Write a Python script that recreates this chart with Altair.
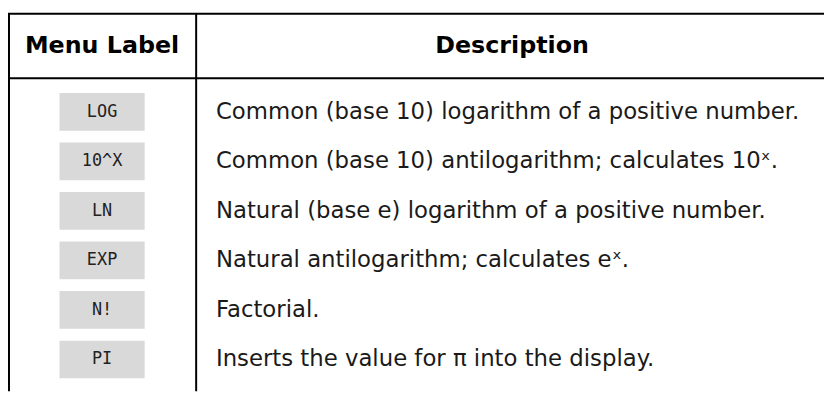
import altair as alt
import pandas as pd

# ---- table content ----
headers = ["Menu Label", "Description"]
labels = ["LOG", "10^X", "LN", "EXP", "N!", "PI"]
descriptions = [
    "Common (base 10) logarithm of a positive number.",
    "Common (base 10) antilogarithm; calculates 10\u02e3.",
    "Natural (base e) logarithm of a positive number.",
    "Natural antilogarithm; calculates e\u02e3.",
    "Factorial.",
    "Inserts the value for \u03c0 into the display.",
]

# ---- layout (row units on y, pixel-like units on x) ----
W, H = 824, 385
Y_DOMAIN = [6.64, -1.06]     # bottom .. top, in row units
HEADER_ROW = -0.32
TOP_LINE = -0.98
HEADER_LINE = 0.32
BOTTOM = 6.64
X_LEFT, X_DIV, X_RIGHT = 1, 190, W
X_LABEL = 95
X_DESC = 210
X_DESC_HEAD = 509
BTN_HALF_W, BTN_HALF_H = 43, 0.38

xs = alt.Scale(domain=[0, W], range=[0, W])
ys = alt.Scale(domain=Y_DOMAIN)

rows = pd.DataFrame({
    "row": list(range(1, len(labels) + 1)),
    "label": labels,
    "desc": descriptions,
})
rows["bx"] = X_LABEL - BTN_HALF_W
rows["bx2"] = X_LABEL + BTN_HALF_W
rows["by"] = rows["row"] - BTN_HALF_H
rows["by2"] = rows["row"] + BTN_HALF_H
rows["lx"] = X_LABEL
rows["dx"] = X_DESC

hdr = pd.DataFrame({
    "text": headers,
    "x": [X_LABEL, X_DESC_HEAD],
    "r": [HEADER_ROW, HEADER_ROW],
})

hlines = pd.DataFrame({"x": [X_LEFT - 1, X_LEFT - 1], "x2": [X_RIGHT, X_RIGHT],
                       "r": [TOP_LINE, HEADER_LINE]})
vlines = pd.DataFrame({"x": [X_LEFT, X_DIV], "r": [TOP_LINE, TOP_LINE],
                       "r2": [BOTTOM, BOTTOM]})

noax = None

buttons = alt.Chart(rows).mark_rect(color="#d9d9d9").encode(
    x=alt.X("bx:Q", scale=xs, axis=noax),
    x2="bx2:Q",
    y=alt.Y("by:Q", scale=ys, axis=noax),
    y2="by2:Q",
)

btn_text = alt.Chart(rows).mark_text(
    font="DejaVu Sans Mono", fontSize=17, color="#222222",
    align="center", baseline="middle",
).encode(
    x=alt.X("lx:Q", scale=xs, axis=noax),
    y=alt.Y("row:Q", scale=ys, axis=noax),
    text="label:N",
)

desc_text = alt.Chart(rows).mark_text(
    font="DejaVu Sans", fontSize=23, color="#1a1a1a",
    align="left", baseline="middle",
).encode(
    x=alt.X("dx:Q", scale=xs, axis=noax),
    y=alt.Y("row:Q", scale=ys, axis=noax),
    text="desc:N",
)

hdr_text = alt.Chart(hdr).mark_text(
    font="DejaVu Sans", fontSize=24, fontWeight="bold", color="#000000",
    align="center", baseline="middle",
).encode(
    x=alt.X("x:Q", scale=xs, axis=noax),
    y=alt.Y("r:Q", scale=ys, axis=noax),
    text="text:N",
)

h_rules = alt.Chart(hlines).mark_rule(color="#000000", strokeWidth=2).encode(
    x=alt.X("x:Q", scale=xs, axis=noax),
    x2="x2:Q",
    y=alt.Y("r:Q", scale=ys, axis=noax),
)

v_rules = alt.Chart(vlines).mark_rule(color="#000000", strokeWidth=2).encode(
    x=alt.X("x:Q", scale=xs, axis=noax),
    y=alt.Y("r:Q", scale=ys, axis=noax),
    y2="r2:Q",
)

chart = alt.layer(buttons, btn_text, desc_text, hdr_text, h_rules, v_rules).properties(
    width=W, height=H, padding=0, autosize="none", background="#ffffff",
).configure_view(strokeWidth=0)

chart.save("out.html", embed_options={"renderer": "svg", "actions": False})
